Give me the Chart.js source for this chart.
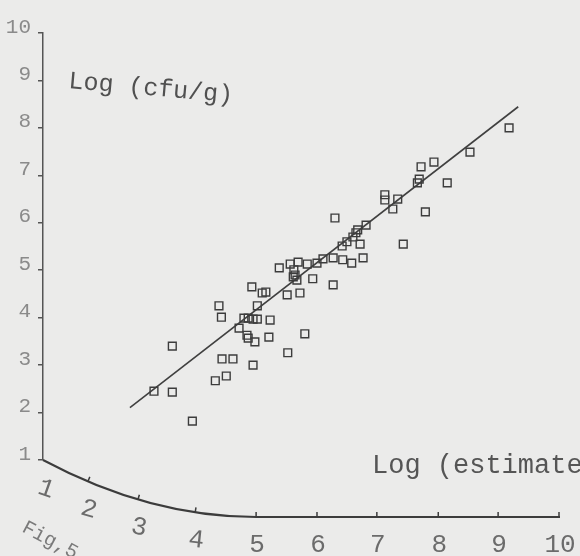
<!DOCTYPE html>
<html>
<head>
<meta charset="utf-8">
<title>Fig.5</title>
<script src="https://cdn.jsdelivr.net/npm/chart.js@4.4.0/dist/chart.umd.min.js"></script>
<style>
  html, body { margin: 0; padding: 0; background: #ebebea; }
</style>
</head>
<body>
<canvas id="fig5" width="580" height="556"></canvas>
<script>
// Fig.5 : Log (cfu/g) against Log (estimate), with fitted line

// x = Log (estimate), y = Log (cfu/g)
const estimateLog = [
  9.18, 8.53, 7.93, 7.72, 7.69, 7.66, 8.15, 7.13, 7.13, 7.34,
  7.26, 7.79, 6.30, 6.82, 6.68, 6.65, 6.60, 6.50, 6.42, 6.72,
  7.43, 6.27, 6.43, 6.58, 6.77, 6.10, 6.00, 5.84, 5.69, 5.56,
  5.38, 5.62, 5.64, 5.61, 5.67, 5.93, 6.27, 5.72, 5.51, 4.93,
  5.10, 5.16, 4.39, 4.43, 5.02, 4.80, 4.87, 4.95, 5.02, 5.23,
  4.72, 4.85, 4.87, 4.98, 5.21, 5.80, 3.60, 4.44, 4.62, 4.95,
  5.52, 4.51, 4.33, 3.28, 3.60, 3.95
];
const cfuLog = [
  8.00, 7.49, 7.28, 7.18, 6.92, 6.84, 6.84, 6.59, 6.48, 6.50,
  6.29, 6.23, 6.10, 5.95, 5.85, 5.79, 5.70, 5.60, 5.51, 5.55,
  5.55, 5.26, 5.22, 5.15, 5.26, 5.24, 5.15, 5.13, 5.17, 5.13,
  5.05, 5.01, 4.90, 4.86, 4.79, 4.82, 4.69, 4.52, 4.48, 4.65,
  4.52, 4.54, 4.25, 4.01, 4.25, 3.99, 3.99, 3.97, 3.97, 3.95,
  3.78, 3.63, 3.57, 3.49, 3.59, 3.66, 3.40, 3.13, 3.13, 3.00,
  3.26, 2.77, 2.67, 2.45, 2.43, 1.82
];

// fitted line
const fitSlope = 0.977;
const fitIntercept = -0.67;
const fitFrom = 2.84;
const fitTo = 9.33;

const xTicks = [1, 2, 3, 4, 5, 6, 7, 8, 9, 10];
const yTicks = [1, 2, 3, 4, 5, 6, 7, 8, 9, 10];

// the page is bent near the spine, so the low x ticks are squeezed together
const xTickFrac = [0.004, 0.087, 0.184, 0.295, 0.413, 0.531, 0.647, 0.766, 0.882, 1.0];

const paper = '#ebebea';
const ink = '#3c3c3c';
const mono = "'Liberation Mono', 'DejaVu Sans Mono', monospace";

// linear scale that follows the bent page (piecewise between the ticks)
class BentScale extends Chart.LinearScale {
  getPixelForValue(value) {
    if (value === null || value === undefined || isNaN(value)) return NaN;
    let i = 0;
    while (i < xTicks.length - 2 && value > xTicks[i + 1]) i++;
    const f = xTickFrac[i] + (xTickFrac[i + 1] - xTickFrac[i]) * (value - xTicks[i]) / (xTicks[i + 1] - xTicks[i]);
    return this.getPixelForDecimal(f);
  }
  getValueForPixel(pixel) {
    const d = this.getDecimalForPixel(pixel);
    let i = 0;
    while (i < xTickFrac.length - 2 && d > xTickFrac[i + 1]) i++;
    return xTicks[i] + (xTicks[i + 1] - xTicks[i]) * (d - xTickFrac[i]) / (xTickFrac[i + 1] - xTickFrac[i]);
  }
}
BentScale.id = 'bent';
BentScale.defaults = Chart.LinearScale.defaults;
Chart.register(BentScale);

const points = estimateLog.map((x, i) => ({ x: x, y: cfuLog[i] }));
const fitLine = [fitFrom, fitTo].map(x => ({ x: x, y: fitSlope * x + fitIntercept }));

// paper background, curved x axis, its labels and the loose texts
const paperPlugin = {
  id: 'paper',
  beforeDraw(chart) {
    const ctx = chart.ctx;
    ctx.save();
    ctx.fillStyle = paper;
    ctx.fillRect(0, 0, chart.width, chart.height);
    ctx.restore();
  },
  afterDraw(chart) {
    const ctx = chart.ctx;
    const area = chart.chartArea;
    const xs = chart.scales.x;
    const sag = 57;
    const base = area.bottom + sag;
    const x0 = area.left;
    const x1 = xs.getPixelForValue(5);

    function curveY(px) {
      if (px >= x1) return base;
      const t = (px - x0) / (x1 - x0);
      return base - sag * (1 - t) * (1 - t);
    }
    function curveAngle(px) {
      if (px >= x1) return 0;
      const t = (px - x0) / (x1 - x0);
      return Math.atan(2 * sag * (1 - t) / (x1 - x0));
    }

    ctx.save();
    ctx.strokeStyle = ink;
    ctx.lineWidth = 2;
    ctx.beginPath();
    ctx.moveTo(x0, area.bottom);
    ctx.quadraticCurveTo((x0 + x1) / 2, base, x1, base);
    ctx.lineTo(area.right + 1, base);
    ctx.stroke();

    ctx.lineWidth = 1.5;
    ctx.fillStyle = '#6b6b6b';
    ctx.font = '26px ' + mono;
    ctx.textAlign = 'center';
    ctx.textBaseline = 'middle';
    xTicks.forEach(v => {
      const px = xs.getPixelForValue(v);
      const py = curveY(px);
      const a = curveAngle(px);
      if (v > 1) {
        ctx.beginPath();
        ctx.moveTo(px, py);
        ctx.lineTo(px + 5 * Math.sin(a), py - 5 * Math.cos(a));
        ctx.stroke();
      }
      ctx.save();
      ctx.translate(px + 1, py + 28);
      ctx.rotate(a * 0.7);
      ctx.fillText(String(v), 0, 0);
      ctx.restore();
    });

    ctx.textAlign = 'left';
    ctx.textBaseline = 'alphabetic';

    // y title
    ctx.save();
    ctx.fillStyle = '#505050';
    ctx.font = '25px ' + mono;
    ctx.translate(68, 88);
    ctx.rotate(5 * Math.PI / 180);
    ctx.fillText('Log (cfu/g)', 0, 0);
    ctx.restore();

    // x title (runs off the page edge)
    ctx.fillStyle = '#555555';
    ctx.font = '27px ' + mono;
    ctx.fillText('Log (estimate', 372, 473);

    // figure number
    ctx.save();
    ctx.fillStyle = '#7a7a7a';
    ctx.font = '20px ' + mono;
    ctx.translate(21, 531);
    ctx.rotate(28 * Math.PI / 180);
    ctx.fillText('Fig,5', 0, 0);
    ctx.restore();

    ctx.restore();
  }
};

new Chart(document.getElementById('fig5'), {
  type: 'scatter',
  data: {
    datasets: [
      {
        label: 'samples',
        data: points,
        pointStyle: 'rect',
        pointRadius: 5.5,
        borderWidth: 1.4,
        borderColor: ink,
        backgroundColor: 'rgba(0,0,0,0)'
      },
      {
        label: 'fit',
        type: 'line',
        data: fitLine,
        showLine: true,
        pointRadius: 0,
        borderWidth: 1.6,
        borderColor: '#404040',
        fill: false
      }
    ]
  },
  options: {
    responsive: false,
    animation: false,
    devicePixelRatio: 1,
    events: [],
    layout: { padding: { top: 33, right: 21, bottom: 96, left: 0 } },
    plugins: {
      legend: { display: false },
      title: { display: false },
      tooltip: { enabled: false }
    },
    scales: {
      x: {
        type: 'bent',
        min: 1,
        max: 10,
        display: false
      },
      y: {
        type: 'linear',
        min: 1,
        max: 10,
        afterBuildTicks: s => { s.ticks = yTicks.map(v => ({ value: v })); },
        afterFit: s => { s.width = 43; },
        ticks: {
          color: '#8a8a8a',
          font: { family: mono, size: 21 },
          padding: 7,
          labelOffset: -6
        },
        grid: {
          drawOnChartArea: false,
          tickLength: 5,
          color: '#555555',
          lineWidth: 1.5
        },
        border: { color: '#555555', width: 1.5 }
      }
    }
  },
  plugins: [paperPlugin]
});
</script>
</body>
</html>
